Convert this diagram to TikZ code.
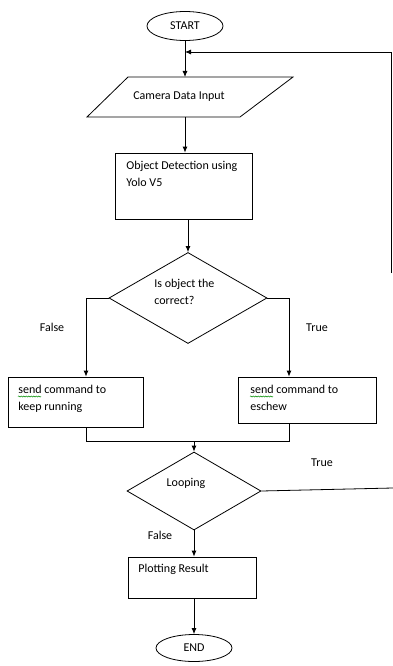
\documentclass[tikz,border=0pt]{standalone}
\usepackage{fontspec}
\setmainfont{Carlito}
\usetikzlibrary{shapes.geometric,arrows.meta,decorations.pathmorphing}
\begin{document}
\begin{tikzpicture}[x=1pt,y=-1pt,
  line width=0.8pt,
  txt/.style={inner sep=0pt, font=\fontsize{12}{17.5}\selectfont, align=left, anchor=north west},
  lbl/.style={inner sep=0pt, font=\fontsize{12}{14}\selectfont},
  box/.style={draw, rectangle, inner sep=0pt},
  term/.style={draw, ellipse, inner sep=0pt, font=\fontsize{12}{14}\selectfont},
  dec/.style={draw, diamond, inner sep=0pt},
  arr/.style={-{Latex[length=6pt,width=5pt]}},
  squig/.style={green!55!black, line width=0.5pt, decorate, decoration={snake, amplitude=0.6pt, segment length=2.5pt}}
]
\useasboundingbox (0,0) rectangle (393,666);

% start
\node[term, minimum width=76, minimum height=29] (start) at (185,26) {START};

% input parallelogram
\node[lbl] (input) at (179,97) {Camera Data Input};
\draw (128,77) -- (293,77) -- (240,117) -- (87,117) -- cycle;
\coordinate (inN) at (185,77);
\coordinate (inS) at (185,117);
\draw[arr] (start.south) -- (inN);

% detection
\node[box, minimum width=137, minimum height=66] (detect) at (183.5,186) {};
\node[txt] (detectT) at (126,160.5) {Object Detection using\\Yolo V5};
\draw[arr] (inS) -- (inS |- detect.north);

% decision 1
\node[dec, minimum width=158, minimum height=91] (dec1) at (188,298) {};
\node[txt] (dec1T) at (154,278.5) {Is object the\\correct?};
\draw[arr] (dec1.north |- detect.south) -- (dec1.north);

% branch boxes
\node[box, minimum width=135, minimum height=50] (lbox) at (75.5,402) {};
\node[box, minimum width=138, minimum height=46] (rbox) at (307,400) {};
\node[txt] (lboxT) at (18,384.5) {send command to\\keep running};
\node[txt] (rboxT) at (250,384.5) {send command to\\eschew};
\draw[squig] (18,396.5) -- (41,396.5);
\draw[squig] (250,396.5) -- (273,396.5);
\coordinate (lx) at (86,0);
\coordinate (rx) at (289,0);
\draw[arr] (dec1.west) -| (lx |- lbox.north);
\draw[arr] (dec1.east) -| (rx |- rbox.north);
\node[lbl] (lF) at (52,327) {False};
\node[lbl] (rT) at (317,328) {True};

% merge
\coordinate (mY) at (0,441);
\node[dec, minimum width=134, minimum height=78] (loop) at (194,491) {};
\node[lbl] (loopT) at (186,483) {Looping};
\draw (lx |- lbox.south) -- (lx |- mY) -- (rx |- mY) -- (rx |- rbox.south);
\draw[arr] (loop.north |- mY) -- (loop.north);

% loop back
\coordinate (re) at (393,488);
\coordinate (rb) at (391,273);
\coordinate (rt) at (391,52);
\draw (loop.east) -- (re);
\draw[arr] (rb) -- (rt) -- (inN |- rt);
\node[lbl] (lpT) at (322,463) {True};
\node[lbl] (lpF) at (160,535) {False};

% plot and end
\node[box, minimum width=128, minimum height=41] (plot) at (192,577.5) {};
\node[txt, anchor=base west] (plotT) at (138,572.5) {Plotting Result};
\draw[arr] (loop.south) -- (loop.south |- plot.north);
\node[term, minimum width=76, minimum height=27] (end) at (194,648) {END};
\draw[arr] (loop.south |- plot.south) -- (end.north);
\end{tikzpicture}
\end{document}
